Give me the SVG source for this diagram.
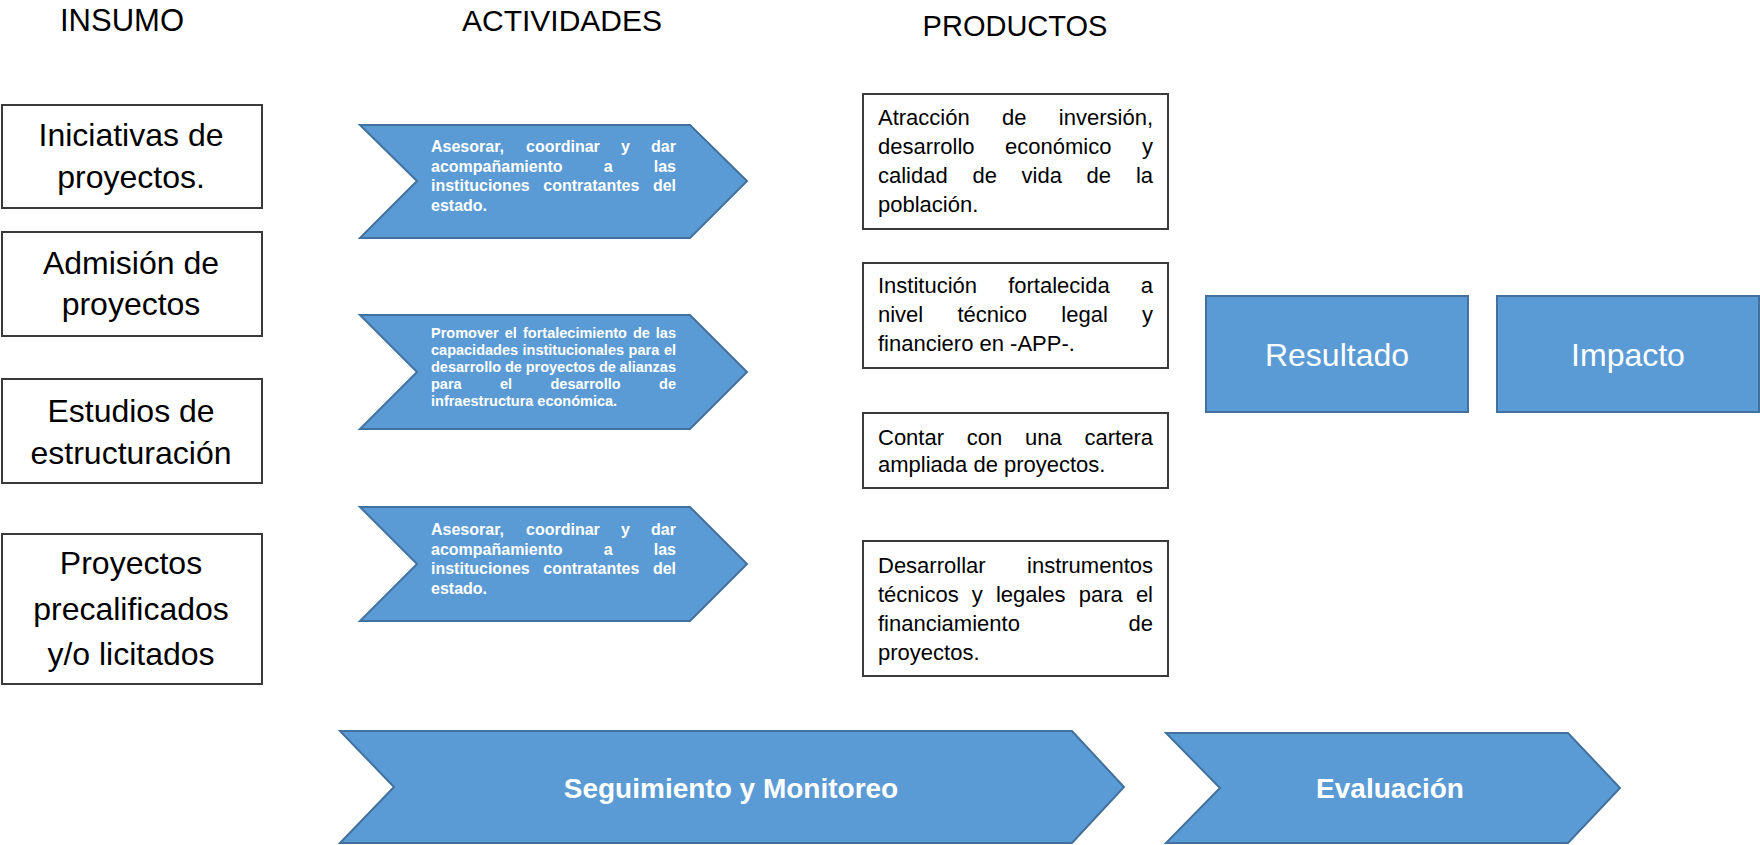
<svg xmlns="http://www.w3.org/2000/svg" width="1760" height="845" viewBox="0 0 1760 845">
<style>
  .bg { fill: #ffffff; }
  .hdr { font-family: "Liberation Sans", Arial, sans-serif; font-size: 30px; fill: #000; text-anchor: middle; }
  .box { fill: #ffffff; stroke: #3a3a3a; stroke-width: 2; }
  .in { font-family: "Liberation Sans", Arial, sans-serif; font-size: 32px; fill: #000; text-anchor: middle; }
  .pr { font-family: "Liberation Sans", Arial, sans-serif; font-size: 22px; fill: #000; }
  .blue { fill: #5B9BD5; stroke: #41719C; stroke-width: 2; }
  .act { font-family: "Liberation Sans", Arial, sans-serif; font-size: 16px; font-weight: bold; fill: #ffffff; }
  .act2 { font-family: "Liberation Sans", Arial, sans-serif; font-size: 14.5px; font-weight: bold; fill: #ffffff; }
  .big { font-family: "Liberation Sans", Arial, sans-serif; font-size: 32px; fill: #ffffff; text-anchor: middle; }
  .bot { font-family: "Liberation Sans", Arial, sans-serif; font-size: 28px; font-weight: bold; fill: #ffffff; text-anchor: middle; }
</style>
<rect class="bg" x="0" y="0" width="1760" height="845"/>

<g id="headers">
  <text class="hdr" x="122" y="31" style="font-size:31px">INSUMO</text>
  <text class="hdr" x="562" y="31">ACTIVIDADES</text>
  <text class="hdr" x="1015" y="36" style="font-size:29px">PRODUCTOS</text>
</g>

<g id="connectors"/>

<!-- INSUMO -->
<g id="insumo-1">
  <rect class="box" x="2" y="105" width="260" height="103"/>
  <text class="in" x="131" y="146">Iniciativas de</text>
  <text class="in" x="131" y="188">proyectos.</text>
</g>
<g id="insumo-2">
  <rect class="box" x="2" y="232" width="260" height="104"/>
  <text class="in" x="131" y="274">Admisión de</text>
  <text class="in" x="131" y="315">proyectos</text>
</g>
<g id="insumo-3">
  <rect class="box" x="2" y="379" width="260" height="104"/>
  <text class="in" x="131" y="422">Estudios de</text>
  <text class="in" x="131" y="464">estructuración</text>
</g>
<g id="insumo-4">
  <rect class="box" x="2" y="534" width="260" height="150"/>
  <text class="in" x="131" y="574">Proyectos</text>
  <text class="in" x="131" y="619.5">precalificados</text>
  <text class="in" x="131" y="665">y/o licitados</text>
</g>

<!-- ACTIVIDADES -->
<g id="actividad-1">
  <polygon class="blue" points="360,125 690,125 747,181 690,238 360,238 417,181"/>
  <text class="act" y="152"><tspan x="431">Asesorar,</tspan><tspan x="526">coordinar</tspan><tspan x="621">y</tspan><tspan x="676" text-anchor="end">dar</tspan></text>
  <text class="act" y="171.5"><tspan x="431">acompañamiento</tspan><tspan x="603.7">a</tspan><tspan x="676" text-anchor="end">las</tspan></text>
  <text class="act" y="191"><tspan x="431">instituciones</tspan><tspan x="543.3">contratantes</tspan><tspan x="676" text-anchor="end">del</tspan></text>
  <text class="act" x="431" y="210.5">estado.</text>
</g>
<g id="actividad-2">
  <polygon class="blue" points="360,315 690,315 747,372 690,429 360,429 417,372"/>
  <text class="act2" y="338"><tspan x="431">Promover</tspan><tspan x="504.8">el</tspan><tspan x="523">fortalecimiento</tspan><tspan x="632.9">de</tspan><tspan x="676" text-anchor="end">las</tspan></text>
  <text class="act2" y="355"><tspan x="431">capacidades</tspan><tspan x="522.5">institucionales</tspan><tspan x="628.6">para</tspan><tspan x="676" text-anchor="end">el</tspan></text>
  <text class="act2" y="372"><tspan x="431">desarrollo</tspan><tspan x="505">de</tspan><tspan x="525.7">proyectos</tspan><tspan x="598.9">de</tspan><tspan x="676" text-anchor="end">alianzas</tspan></text>
  <text class="act2" y="389"><tspan x="431">para</tspan><tspan x="500">el</tspan><tspan x="550.5">desarrollo</tspan><tspan x="676" text-anchor="end">de</tspan></text>
  <text class="act2" x="431" y="406">infraestructura económica.</text>
</g>
<g id="actividad-3">
  <polygon class="blue" points="360,507 690,507 747,564 690,621 360,621 417,564"/>
  <text class="act" y="535"><tspan x="431">Asesorar,</tspan><tspan x="526">coordinar</tspan><tspan x="621">y</tspan><tspan x="676" text-anchor="end">dar</tspan></text>
  <text class="act" y="554.5"><tspan x="431">acompañamiento</tspan><tspan x="603.7">a</tspan><tspan x="676" text-anchor="end">las</tspan></text>
  <text class="act" y="574"><tspan x="431">instituciones</tspan><tspan x="543.3">contratantes</tspan><tspan x="676" text-anchor="end">del</tspan></text>
  <text class="act" x="431" y="593.5">estado.</text>
</g>

<!-- PRODUCTOS -->
<g id="producto-1">
  <rect class="box" x="863" y="94" width="305" height="135"/>
  <text class="pr" y="125"><tspan x="878">Atracción</tspan><tspan x="1002">de</tspan><tspan x="1153" text-anchor="end">inversión,</tspan></text>
  <text class="pr" y="154"><tspan x="878">desarrollo</tspan><tspan x="1005">económico</tspan><tspan x="1153" text-anchor="end">y</tspan></text>
  <text class="pr" y="183"><tspan x="878">calidad</tspan><tspan x="972.4">de</tspan><tspan x="1021.6">vida</tspan><tspan x="1086.6">de</tspan><tspan x="1153" text-anchor="end">la</tspan></text>
  <text class="pr" x="878" y="212">población.</text>
</g>
<g id="producto-2">
  <rect class="box" x="863" y="263" width="305" height="105"/>
  <text class="pr" y="293"><tspan x="878">Institución</tspan><tspan x="1008.2">fortalecida</tspan><tspan x="1153" text-anchor="end">a</tspan></text>
  <text class="pr" y="322"><tspan x="878">nivel</tspan><tspan x="957.4">técnico</tspan><tspan x="1061.3">legal</tspan><tspan x="1153" text-anchor="end">y</tspan></text>
  <text class="pr" x="878" y="351">financiero en -APP-.</text>
</g>
<g id="producto-3">
  <rect class="box" x="863" y="413" width="305" height="75"/>
  <text class="pr" y="445"><tspan x="878">Contar</tspan><tspan x="966.8">con</tspan><tspan x="1025.1">una</tspan><tspan x="1153" text-anchor="end">cartera</tspan></text>
  <text class="pr" x="878" y="472">ampliada de proyectos.</text>
</g>
<g id="producto-4">
  <rect class="box" x="863" y="541" width="305" height="135"/>
  <text class="pr" y="573"><tspan x="878">Desarrollar</tspan><tspan x="1153" text-anchor="end">instrumentos</tspan></text>
  <text class="pr" y="602"><tspan x="878">técnicos</tspan><tspan x="971.8">y</tspan><tspan x="995.9">legales</tspan><tspan x="1078.7">para</tspan><tspan x="1153" text-anchor="end">el</tspan></text>
  <text class="pr" y="631"><tspan x="878">financiamiento</tspan><tspan x="1153" text-anchor="end">de</tspan></text>
  <text class="pr" x="878" y="660">proyectos.</text>
</g>

<!-- RESULTADO / IMPACTO -->
<g id="resultado">
  <rect class="blue" x="1206" y="296" width="262" height="116"/>
  <text class="big" x="1337" y="366">Resultado</text>
</g>
<g id="impacto">
  <rect class="blue" x="1497" y="296" width="262" height="116"/>
  <text class="big" x="1628" y="366">Impacto</text>
</g>

<!-- BOTTOM -->
<g id="seguimiento">
  <polygon class="blue" points="340,731 1072,731 1124,787 1072,843 340,843 394,787"/>
  <text class="bot" x="731" y="798">Seguimiento y Monitoreo</text>
</g>
<g id="evaluacion">
  <polygon class="blue" points="1166,733 1568,733 1620,788 1568,843 1166,843 1220,788"/>
  <text class="bot" x="1390" y="798">Evaluación</text>
</g>
</svg>
